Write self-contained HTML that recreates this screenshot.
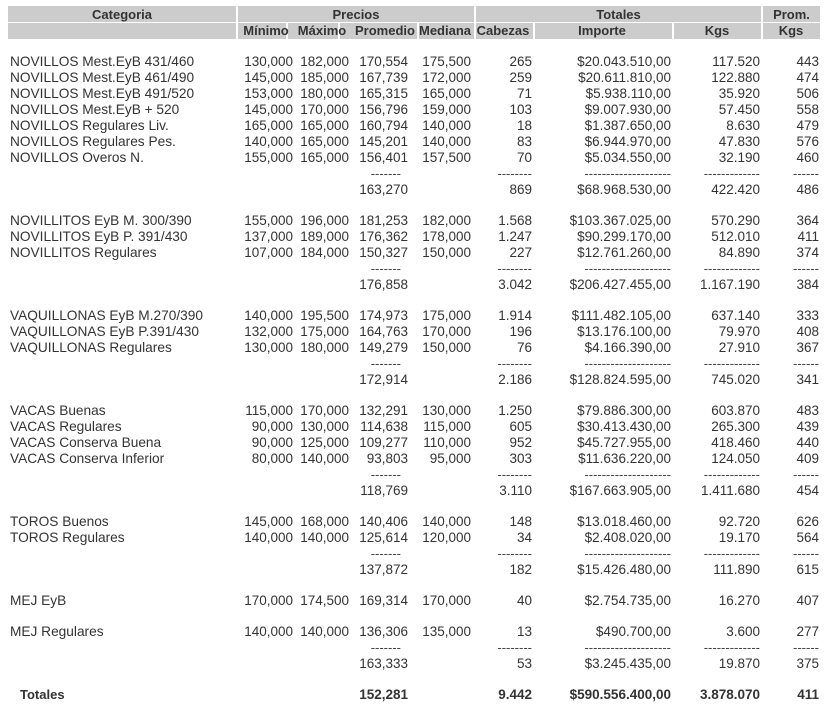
<!DOCTYPE html>
<html><head><meta charset="utf-8">
<style>
body{margin:0;width:836px;height:724px;background:#fff;font-family:"Liberation Sans",Arial,sans-serif;font-size:13px;color:#333;position:relative;overflow:hidden}
.h{position:absolute;background:#ccc;height:16px}
.t{position:absolute;font-weight:bold;line-height:16px;text-align:center;white-space:nowrap}
.r{position:absolute;left:0;width:836px;height:16px;line-height:16px;margin-top:1px;font-size:13.5px}
.r span{position:absolute;top:0;white-space:nowrap;text-align:right}
.r .c0{left:10px;text-align:left;font-size:13.7px}
.c1{left:230px;width:63px}
.c2{left:290px;width:59px}
.c3{left:345px;width:63px}
.c4{left:405px;width:66px}
.c5{left:470px;width:62px}
.c6{left:520px;width:151px}
.c7{left:670px;width:90px}
.c8{left:760px;width:59px}
.r .d3{left:345px;width:56px}
.b{font-weight:bold}
.ds{color:#444;font-size:13px}
</style></head><body>
<div class="h" style="left:8px;top:6px;width:228px"></div>
<div class="h" style="left:238px;top:6px;width:236px"></div>
<div class="h" style="left:476px;top:6px;width:285px"></div>
<div class="h" style="left:763px;top:6px;width:57px"></div>
<div class="h" style="left:8px;top:23px;width:228px"></div>
<div class="h" style="left:238px;top:23px;width:48px"></div>
<div class="h" style="left:288px;top:23px;width:50px"></div>
<div class="h" style="left:340px;top:23px;width:77px"></div>
<div class="h" style="left:419px;top:23px;width:55px"></div>
<div class="h" style="left:476px;top:23px;width:57px"></div>
<div class="h" style="left:535px;top:23px;width:137px"></div>
<div class="h" style="left:674px;top:23px;width:87px"></div>
<div class="h" style="left:763px;top:23px;width:57px"></div>
<div class="t" style="left:8px;top:7px;width:228px">Categoria</div>
<div class="t" style="left:238px;top:7px;width:236px">Precios</div>
<div class="t" style="left:476px;top:7px;width:285px">Totales</div>
<div class="t" style="left:763px;top:7px;width:57px">Prom.</div>
<div class="t" style="left:236px;top:23px;width:60px">Mínimo</div>
<div class="t" style="left:292px;top:23px;width:60px">Máximo</div>
<div class="t" style="left:350px;top:23px;width:70px">Promedio</div>
<div class="t" style="left:415px;top:23px;width:60px">Mediana</div>
<div class="t" style="left:473px;top:23px;width:60px">Cabezas</div>
<div class="t" style="left:552px;top:23px;width:100px">Importe</div>
<div class="t" style="left:687px;top:23px;width:60px">Kgs</div>
<div class="t" style="left:761px;top:23px;width:60px">Kgs</div>

<div class="r" style="top:53px"><span class="c0">NOVILLOS Mest.EyB 431/460</span><span class="c1">130,000</span><span class="c2">182,000</span><span class="c3">170,554</span><span class="c4">175,500</span><span class="c5">265</span><span class="c6">$20.043.510,00</span><span class="c7">117.520</span><span class="c8">443</span></div>
<div class="r" style="top:69px"><span class="c0">NOVILLOS Mest.EyB 461/490</span><span class="c1">145,000</span><span class="c2">185,000</span><span class="c3">167,739</span><span class="c4">172,000</span><span class="c5">259</span><span class="c6">$20.611.810,00</span><span class="c7">122.880</span><span class="c8">474</span></div>
<div class="r" style="top:85px"><span class="c0">NOVILLOS Mest.EyB 491/520</span><span class="c1">153,000</span><span class="c2">180,000</span><span class="c3">165,315</span><span class="c4">165,000</span><span class="c5">71</span><span class="c6">$5.938.110,00</span><span class="c7">35.920</span><span class="c8">506</span></div>
<div class="r" style="top:101px"><span class="c0">NOVILLOS Mest.EyB + 520</span><span class="c1">145,000</span><span class="c2">170,000</span><span class="c3">156,796</span><span class="c4">159,000</span><span class="c5">103</span><span class="c6">$9.007.930,00</span><span class="c7">57.450</span><span class="c8">558</span></div>
<div class="r" style="top:117px"><span class="c0">NOVILLOS Regulares Liv.</span><span class="c1">165,000</span><span class="c2">165,000</span><span class="c3">160,794</span><span class="c4">140,000</span><span class="c5">18</span><span class="c6">$1.387.650,00</span><span class="c7">8.630</span><span class="c8">479</span></div>
<div class="r" style="top:133px"><span class="c0">NOVILLOS Regulares Pes.</span><span class="c1">140,000</span><span class="c2">165,000</span><span class="c3">145,201</span><span class="c4">140,000</span><span class="c5">83</span><span class="c6">$6.944.970,00</span><span class="c7">47.830</span><span class="c8">576</span></div>
<div class="r" style="top:149px"><span class="c0">NOVILLOS Overos N.</span><span class="c1">155,000</span><span class="c2">165,000</span><span class="c3">156,401</span><span class="c4">157,500</span><span class="c5">70</span><span class="c6">$5.034.550,00</span><span class="c7">32.190</span><span class="c8">460</span></div>
<div class="r ds" style="top:165px"><span class="d3">-------</span><span class="c5">--------</span><span class="c6">--------------------</span><span class="c7">-------------</span><span class="c8">------</span></div>
<div class="r" style="top:181px"><span class="c3">163,270</span><span class="c5">869</span><span class="c6">$68.968.530,00</span><span class="c7">422.420</span><span class="c8">486</span></div>

<div class="r" style="top:212px"><span class="c0">NOVILLITOS EyB M. 300/390</span><span class="c1">155,000</span><span class="c2">196,000</span><span class="c3">181,253</span><span class="c4">182,000</span><span class="c5">1.568</span><span class="c6">$103.367.025,00</span><span class="c7">570.290</span><span class="c8">364</span></div>
<div class="r" style="top:228px"><span class="c0">NOVILLITOS EyB P. 391/430</span><span class="c1">137,000</span><span class="c2">189,000</span><span class="c3">176,362</span><span class="c4">178,000</span><span class="c5">1.247</span><span class="c6">$90.299.170,00</span><span class="c7">512.010</span><span class="c8">411</span></div>
<div class="r" style="top:244px"><span class="c0">NOVILLITOS Regulares</span><span class="c1">107,000</span><span class="c2">184,000</span><span class="c3">150,327</span><span class="c4">150,000</span><span class="c5">227</span><span class="c6">$12.761.260,00</span><span class="c7">84.890</span><span class="c8">374</span></div>
<div class="r ds" style="top:260px"><span class="d3">-------</span><span class="c5">--------</span><span class="c6">--------------------</span><span class="c7">-------------</span><span class="c8">------</span></div>
<div class="r" style="top:276px"><span class="c3">176,858</span><span class="c5">3.042</span><span class="c6">$206.427.455,00</span><span class="c7">1.167.190</span><span class="c8">384</span></div>

<div class="r" style="top:307px"><span class="c0">VAQUILLONAS EyB M.270/390</span><span class="c1">140,000</span><span class="c2">195,500</span><span class="c3">174,973</span><span class="c4">175,000</span><span class="c5">1.914</span><span class="c6">$111.482.105,00</span><span class="c7">637.140</span><span class="c8">333</span></div>
<div class="r" style="top:323px"><span class="c0">VAQUILLONAS EyB P.391/430</span><span class="c1">132,000</span><span class="c2">175,000</span><span class="c3">164,763</span><span class="c4">170,000</span><span class="c5">196</span><span class="c6">$13.176.100,00</span><span class="c7">79.970</span><span class="c8">408</span></div>
<div class="r" style="top:339px"><span class="c0">VAQUILLONAS Regulares</span><span class="c1">130,000</span><span class="c2">180,000</span><span class="c3">149,279</span><span class="c4">150,000</span><span class="c5">76</span><span class="c6">$4.166.390,00</span><span class="c7">27.910</span><span class="c8">367</span></div>
<div class="r ds" style="top:355px"><span class="d3">-------</span><span class="c5">--------</span><span class="c6">--------------------</span><span class="c7">-------------</span><span class="c8">------</span></div>
<div class="r" style="top:371px"><span class="c3">172,914</span><span class="c5">2.186</span><span class="c6">$128.824.595,00</span><span class="c7">745.020</span><span class="c8">341</span></div>

<div class="r" style="top:402px"><span class="c0">VACAS Buenas</span><span class="c1">115,000</span><span class="c2">170,000</span><span class="c3">132,291</span><span class="c4">130,000</span><span class="c5">1.250</span><span class="c6">$79.886.300,00</span><span class="c7">603.870</span><span class="c8">483</span></div>
<div class="r" style="top:418px"><span class="c0">VACAS Regulares</span><span class="c1">90,000</span><span class="c2">130,000</span><span class="c3">114,638</span><span class="c4">115,000</span><span class="c5">605</span><span class="c6">$30.413.430,00</span><span class="c7">265.300</span><span class="c8">439</span></div>
<div class="r" style="top:434px"><span class="c0">VACAS Conserva Buena</span><span class="c1">90,000</span><span class="c2">125,000</span><span class="c3">109,277</span><span class="c4">110,000</span><span class="c5">952</span><span class="c6">$45.727.955,00</span><span class="c7">418.460</span><span class="c8">440</span></div>
<div class="r" style="top:450px"><span class="c0">VACAS Conserva Inferior</span><span class="c1">80,000</span><span class="c2">140,000</span><span class="c3">93,803</span><span class="c4">95,000</span><span class="c5">303</span><span class="c6">$11.636.220,00</span><span class="c7">124.050</span><span class="c8">409</span></div>
<div class="r ds" style="top:466px"><span class="d3">-------</span><span class="c5">--------</span><span class="c6">--------------------</span><span class="c7">-------------</span><span class="c8">------</span></div>
<div class="r" style="top:482px"><span class="c3">118,769</span><span class="c5">3.110</span><span class="c6">$167.663.905,00</span><span class="c7">1.411.680</span><span class="c8">454</span></div>

<div class="r" style="top:513px"><span class="c0">TOROS Buenos</span><span class="c1">145,000</span><span class="c2">168,000</span><span class="c3">140,406</span><span class="c4">140,000</span><span class="c5">148</span><span class="c6">$13.018.460,00</span><span class="c7">92.720</span><span class="c8">626</span></div>
<div class="r" style="top:529px"><span class="c0">TOROS Regulares</span><span class="c1">140,000</span><span class="c2">140,000</span><span class="c3">125,614</span><span class="c4">120,000</span><span class="c5">34</span><span class="c6">$2.408.020,00</span><span class="c7">19.170</span><span class="c8">564</span></div>
<div class="r ds" style="top:545px"><span class="d3">-------</span><span class="c5">--------</span><span class="c6">--------------------</span><span class="c7">-------------</span><span class="c8">------</span></div>
<div class="r" style="top:561px"><span class="c3">137,872</span><span class="c5">182</span><span class="c6">$15.426.480,00</span><span class="c7">111.890</span><span class="c8">615</span></div>

<div class="r" style="top:592px"><span class="c0">MEJ EyB</span><span class="c1">170,000</span><span class="c2">174,500</span><span class="c3">169,314</span><span class="c4">170,000</span><span class="c5">40</span><span class="c6">$2.754.735,00</span><span class="c7">16.270</span><span class="c8">407</span></div>
<div class="r" style="top:623px"><span class="c0">MEJ Regulares</span><span class="c1">140,000</span><span class="c2">140,000</span><span class="c3">136,306</span><span class="c4">135,000</span><span class="c5">13</span><span class="c6">$490.700,00</span><span class="c7">3.600</span><span class="c8">277</span></div>
<div class="r ds" style="top:639px"><span class="d3">-------</span><span class="c5">--------</span><span class="c6">--------------------</span><span class="c7">-------------</span><span class="c8">------</span></div>
<div class="r" style="top:655px"><span class="c3">163,333</span><span class="c5">53</span><span class="c6">$3.245.435,00</span><span class="c7">19.870</span><span class="c8">375</span></div>

<div class="r b" style="top:686px"><span class="c0" style="left:20px;font-size:13px">Totales</span><span class="c3">152,281</span><span class="c5">9.442</span><span class="c6">$590.556.400,00</span><span class="c7">3.878.070</span><span class="c8">411</span></div>
</body></html>
